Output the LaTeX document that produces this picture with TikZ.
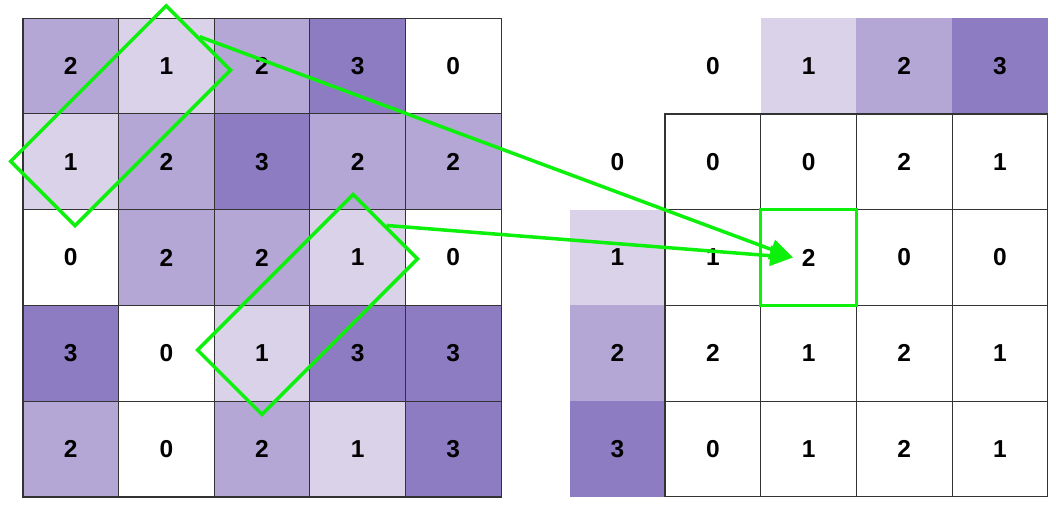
\documentclass[tikz,border=0pt]{standalone}
\usepackage{fontspec}
\setmainfont{Liberation Sans}
\usetikzlibrary{arrows.meta}
\definecolor{p0}{HTML}{FFFFFF}
\definecolor{p1}{HTML}{D9D2E9}
\definecolor{p2}{HTML}{B4A7D6}
\definecolor{p3}{HTML}{8E7CC3}
\definecolor{gr}{RGB}{12,240,12}
\tikzset{
  cellbox/.style={draw=black!80, line width=1.1pt, minimum width=95.7pt, minimum height=95.7pt, inner sep=0pt, font=\fontsize{24.5}{28}\selectfont\bfseries},
  labbox/.style={minimum width=95.7pt, minimum height=95.7pt, inner sep=0pt, font=\fontsize{24.5}{28}\selectfont\bfseries},
  grect/.style={draw=gr, line width=3.5pt, minimum width=220pt, minimum height=91pt, rotate=45, inner sep=0pt},
  gsquare/.style={draw=gr, line width=3.5pt, minimum width=95.7pt, minimum height=95.7pt, inner sep=0pt},
  garrow/.style={draw=gr, line width=3.5pt, -{Triangle[length=23pt,width=20pt]}}
}
\begin{document}
\begin{tikzpicture}[x=1pt,y=-1pt]
\useasboundingbox (0,0) rectangle (1056,506);
% left grid
\foreach \row [count=\r from 0] in {{2,1,2,3,0},{1,2,3,2,2},{0,2,2,1,0},{3,0,1,3,3},{2,0,2,1,3}} {
  \foreach \v [count=\c from 0] in \row {
    \node[cellbox, fill=p\v] (L-\r-\c) at ({23+95.6*(\c+0.5)},{18+95.8*(\r+0.5)}) {\v};
  }
}
% header labels
\foreach \v in {0,1,2,3} {
  \node[labbox, fill=p\v] (T-\v) at ({665+95.7*(\v+0.5)},66) {\v};
  \node[labbox, fill=p\v] (S-\v) at (617.5,{114+95.7*(\v+0.5)}) {\v};
}
% right grid
\foreach \row [count=\r from 0] in {{0,0,2,1},{1,2,0,0},{2,1,2,1},{0,1,2,1}} {
  \foreach \v [count=\c from 0] in \row {
    \node[cellbox] (R-\r-\c) at ({665+95.7*(\c+0.5)},{114+95.7*(\r+0.5)}) {\v};
  }
}
% green marks
\node[grect, yshift=-2pt] (g1) at (L-0-0.south east) {};
\node[grect, xshift=-1pt, yshift=3pt] (g2) at (L-2-2.south east) {};
\node[gsquare] (sq) at (R-1-1.center) {};
\coordinate (tip) at (793,257.5);
\draw[garrow] (g1.east) -- (tip);
\draw[garrow] (g2.east) -- (tip);
\end{tikzpicture}
\end{document}
